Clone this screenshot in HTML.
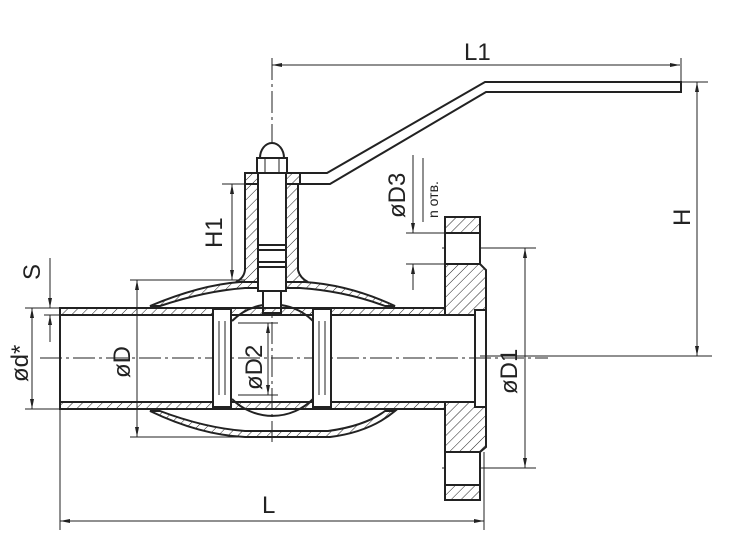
<!DOCTYPE html>
<html><head><meta charset="utf-8"><style>
html,body{margin:0;padding:0;background:#fff;}
svg{display:block;}
text{font-family:"Liberation Sans","DejaVu Sans",sans-serif;fill:#222;}
</style></head><body>
<svg width="755" height="554" viewBox="0 0 755 554" xmlns="http://www.w3.org/2000/svg">
<defs>
<pattern id="h" width="7" height="7" patternUnits="userSpaceOnUse" patternTransform="rotate(45)">
<line x1="0" y1="0" x2="0" y2="7" stroke="#222" stroke-width="1"/></pattern>
<marker id="a" viewBox="0 0 10 10" refX="10" refY="5" markerWidth="10" markerHeight="10" orient="auto-start-reverse" markerUnits="userSpaceOnUse"><path d="M0,3 L10,5 L0,7 Z" fill="#222"/></marker>
</defs>
<g stroke="#222" fill="none" stroke-width="1">
<line x1="40" y1="358" x2="548" y2="358" stroke-dasharray="22,4,3,4"/>
<line x1="272" y1="58" x2="272" y2="442" stroke-dasharray="22,4,3,4"/>
<line x1="272" y1="65" x2="680" y2="65" marker-start="url(#a)" marker-end="url(#a)"/>
<line x1="681" y1="58" x2="681" y2="82"/>
<line x1="682" y1="82" x2="708" y2="82"/>
<line x1="480" y1="356" x2="712" y2="356"/>
<line x1="697" y1="82" x2="697" y2="356" marker-start="url(#a)" marker-end="url(#a)"/>
<line x1="222" y1="184" x2="245" y2="184"/>
<line x1="232" y1="184" x2="232" y2="280" marker-start="url(#a)" marker-end="url(#a)"/>
<line x1="130" y1="280" x2="245" y2="280"/>
<line x1="130" y1="437" x2="245" y2="437"/>
<line x1="137" y1="280" x2="137" y2="437" marker-start="url(#a)" marker-end="url(#a)"/>
<line x1="238" y1="323" x2="278" y2="323"/>
<line x1="238" y1="395" x2="278" y2="395"/>
<line x1="268" y1="323" x2="268" y2="395" marker-start="url(#a)" marker-end="url(#a)"/>
<line x1="25" y1="308" x2="60" y2="308"/>
<line x1="25" y1="409" x2="60" y2="409"/>
<line x1="44" y1="315" x2="60" y2="315"/>
<line x1="32" y1="308" x2="32" y2="409" marker-start="url(#a)" marker-end="url(#a)"/>
<line x1="50" y1="258" x2="50" y2="308" marker-end="url(#a)"/>
<line x1="50" y1="342" x2="50" y2="315" marker-end="url(#a)"/>
<line x1="60" y1="409" x2="60" y2="530"/>
<line x1="484" y1="452" x2="484" y2="530"/>
<line x1="60" y1="521" x2="484" y2="521" marker-start="url(#a)" marker-end="url(#a)"/>
<line x1="442" y1="248" x2="536" y2="248"/>
<line x1="442" y1="468" x2="536" y2="468"/>
<line x1="525" y1="248" x2="525" y2="468" marker-start="url(#a)" marker-end="url(#a)"/>
<line x1="406" y1="233" x2="446" y2="233"/>
<line x1="406" y1="264" x2="446" y2="264"/>
<line x1="413" y1="155" x2="413" y2="233" marker-end="url(#a)"/>
<line x1="413" y1="290" x2="413" y2="264" marker-end="url(#a)"/>
<line x1="423" y1="158" x2="423" y2="222"/>
</g>
<g stroke="#222" stroke-width="2" fill="none">
<path d="M298,173 L327,173 L485,82 L681,82 L681,92 L486,92 L330,184 L298,184"/>
<path d="M260,158 A12,15 0 0 1 284,158 Z" fill="#fff"/>
<rect x="257" y="158" width="30" height="15" fill="#fff"/>
<line x1="265" y1="158" x2="265" y2="173" stroke-width="1"/>
<line x1="279" y1="158" x2="279" y2="173" stroke-width="1"/>
<rect x="245" y="173" width="55" height="11" fill="url(#h)"/>
<path d="M245,184 L298,184 L298,270 Q300,278 308,282 L236,282 Q244,278 245,270 Z" fill="url(#h)"/>
<!-- upper shell band -->
<path d="M150,306 Q200,285 240,282 L305,282 Q350,285 395,306 L385,306 Q345,291 300,288 L245,288 Q205,291 160,306 Z" fill="url(#h)"/>
<!-- lower shell band -->
<path d="M150,411 Q200,435 245,437 L330,437 Q370,432 395,411 L385,411 Q365,426 328,431 L245,431 Q205,428 160,411 Z" fill="url(#h)"/>
<!-- stem -->
<rect x="258" y="173" width="28" height="118" fill="#fff"/>
<rect x="263" y="291" width="18" height="22" fill="#fff"/>
<line x1="258" y1="245" x2="286" y2="245"/>
<line x1="258" y1="250" x2="286" y2="250"/>
<line x1="258" y1="262" x2="286" y2="262"/>
<line x1="258" y1="267" x2="286" y2="267"/>
<!-- pipe walls -->
<rect x="60" y="308" width="385" height="7" fill="url(#h)"/>
<rect x="60" y="402" width="385" height="7" fill="url(#h)"/>
<line x1="60" y1="308" x2="60" y2="409"/>
<line x1="475" y1="315" x2="475" y2="402"/>
<!-- ball arcs -->
<path d="M232,321 A57,57 0 0 1 263,305" stroke-width="2"/>
<path d="M281,305 A57,57 0 0 1 313,321"/>
<path d="M232,399 A57,57 0 0 0 313,399"/>
<!-- seats -->
<rect x="213" y="309" width="18" height="98" fill="#fff"/>
<line x1="219" y1="321" x2="219" y2="395" stroke-width="1"/>
<line x1="225" y1="321" x2="225" y2="395" stroke-width="1"/>
<rect x="313" y="309" width="18" height="98" fill="#fff"/>
<line x1="319" y1="321" x2="319" y2="395" stroke-width="1"/>
<line x1="325" y1="321" x2="325" y2="395" stroke-width="1"/>
<!-- flange -->
<rect x="445" y="217" width="35" height="16" fill="url(#h)"/>
<rect x="445" y="233" width="35" height="31" fill="#fff"/>
<path d="M445,264 L480,264 L486,270 L486,310 L475,310 L475,315 L445,315 Z" fill="url(#h)"/>
<path d="M445,402 L475,402 L475,407 L486,407 L486,447 L480,452 L445,452 Z" fill="url(#h)"/>
<rect x="445" y="452" width="35" height="33" fill="#fff"/>
<rect x="445" y="485" width="35" height="15" fill="url(#h)"/>
<line x1="486" y1="310" x2="486" y2="407"/>
</g>
<g font-size="24">
<text x="464" y="60">L1</text>
<text x="262" y="513">L</text>
<text transform="translate(690,226) rotate(-90)">H</text>
<text transform="translate(222,248) rotate(-90)">H1</text>
<text transform="translate(130,378) rotate(-90)">øD</text>
<text transform="translate(262,390) rotate(-90)">øD2</text>
<text transform="translate(517,394) rotate(-90)">øD1</text>
<text transform="translate(405,218) rotate(-90)">øD3</text>
<text transform="translate(40,280) rotate(-90)">S</text>
<text transform="translate(28,382) rotate(-90)">ød*</text>
<text transform="translate(438,218) rotate(-90)" font-size="14">n отв.</text>
</g>
</svg>
</body></html>
